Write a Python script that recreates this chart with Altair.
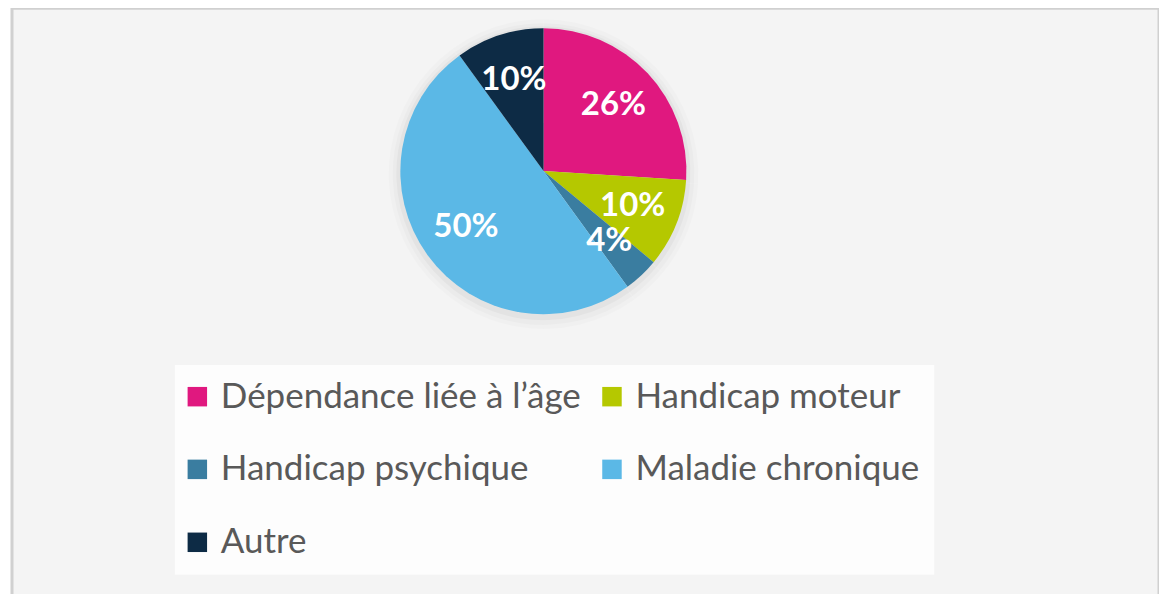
import altair as alt
import pandas as pd

categories = ["Dépendance liée à l’âge", "Handicap moteur", "Handicap psychique", "Maladie chronique", "Autre"]
values = [26, 10, 4, 50, 10]
labels = ["26%", "10%", "4%", "50%", "10%"]
colors = ["#E0187F", "#B5C800", "#3A7DA0", "#5BB8E6", "#0D2B45"]

df = pd.DataFrame({
    "cat": categories,
    "val": values,
    "lab": labels,
    "ord": list(range(len(categories))),
})

cx, cy = 532, 163
R = 143

color = alt.Color(
    "cat:N",
    scale=alt.Scale(domain=categories, range=colors),
    legend=alt.Legend(
        title=None,
        orient="none",
        legendX=163,
        legendY=357,
        columns=2,
        direction="horizontal",
        symbolType="square",
        symbolSize=380,
        symbolStrokeWidth=0,
        symbolOffset=-9,
        labelFont="Lato",
        labelFontSize=35,
        labelColor="#595959",
        labelOffset=6,
        labelLimit=600,
        columnPadding=20,
        rowPadding=37,
        padding=14,
        fillColor="#fdfdfd",
        symbolOpacity=1,
    ),
)

base = alt.Chart(df)

def shadow_layer(extra, dy, op):
    return base.mark_arc(outerRadius=R + extra, color="#000000", opacity=op).encode(
        theta=alt.Theta("val:Q", stack=True),
        order="ord:O",
        x=alt.value(cx), y=alt.value(cy + dy),
    )

pie = base.mark_arc(outerRadius=R).encode(
    theta=alt.Theta("val:Q", stack=True),
    color=color,
    order="ord:O",
    x=alt.value(cx), y=alt.value(cy),
)

text = base.mark_text(
    radius=96, font="Lato", fontWeight="bold", fontSize=33, color="white",
    align="center", baseline="middle",
).encode(
    theta=alt.Theta("val:Q", stack=True),
    order="ord:O",
    text="lab:N",
    x=alt.value(cx), y=alt.value(cy),
)

chart = alt.layer(
    shadow_layer(12, 3, 0.015), shadow_layer(8, 3, 0.02), shadow_layer(4, 2, 0.03),
    pie, text,
).properties(
    width=1148, height=600,
    autosize=alt.AutoSizeParams(type="none"),
    padding={"left": 4, "top": 0, "right": 0, "bottom": 0},
).configure_view(
    fill="#f4f4f4", stroke="#d0d0d0", strokeWidth=3,
)

chart.save("out.html", embed_options={"renderer": "svg", "actions": False})
